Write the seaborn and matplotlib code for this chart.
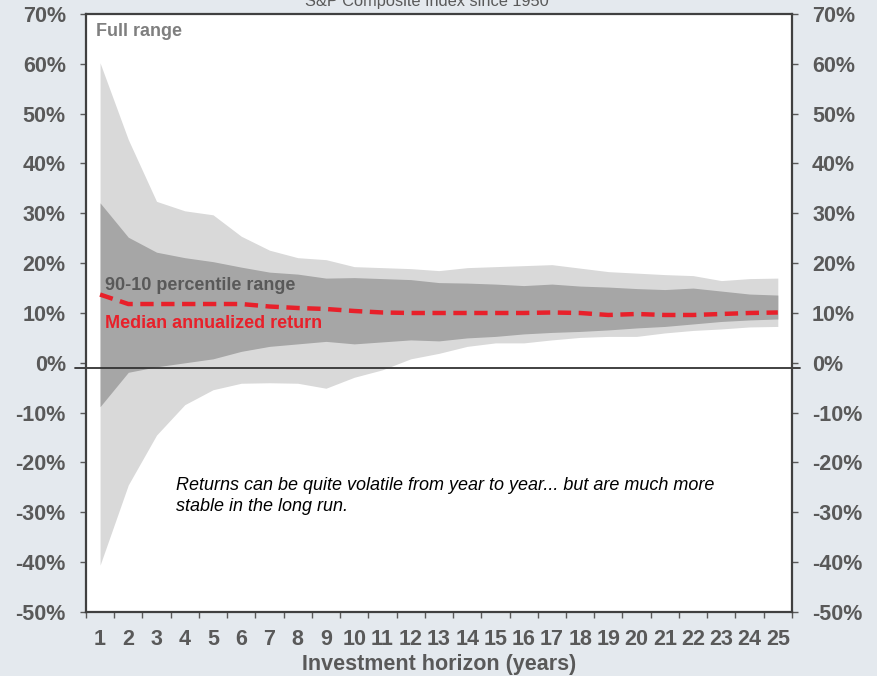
import numpy as np
import pandas as pd
import seaborn as sns
import matplotlib.pyplot as plt
from matplotlib.ticker import FixedLocator
import matplotlib.transforms as mtransforms

# investment horizon in years
horizon = list(range(1, 26))

# annualized returns in %
full_max = [60.2, 44.8, 32.4, 30.5, 29.7, 25.4, 22.6, 21.1, 20.7, 19.3, 19.1, 18.9, 18.5,
            19.1, 19.3, 19.5, 19.7, 19.0, 18.3, 18.0, 17.7, 17.5, 16.5, 16.9, 17.0]
p90 = [32.1, 25.2, 22.2, 21.1, 20.3, 19.2, 18.2, 17.8, 17.0, 17.1, 16.9, 16.7, 16.1,
       16.0, 15.8, 15.5, 15.8, 15.4, 15.2, 14.9, 14.7, 15.0, 14.4, 13.8, 13.6]
median = [13.7, 11.8, 11.8, 11.8, 11.8, 11.8, 11.3, 11.0, 10.8, 10.4, 10.1, 10.0, 10.0,
          10.0, 10.0, 10.0, 10.1, 10.0, 9.6, 9.8, 9.6, 9.6, 9.8, 10.0, 10.1]
p10 = [-8.8, -1.9, -0.8, 0.0, 0.8, 2.3, 3.3, 3.8, 4.3, 3.8, 4.2, 4.6, 4.4,
       5.0, 5.3, 5.8, 6.1, 6.3, 6.6, 7.0, 7.3, 7.8, 8.3, 8.6, 8.8]
full_min = [-40.6, -24.5, -14.5, -8.4, -5.4, -4.1, -4.0, -4.1, -5.1, -2.9, -1.4, 0.8, 1.9,
            3.3, 4.0, 4.0, 4.6, 5.1, 5.3, 5.3, 6.0, 6.5, 6.8, 7.2, 7.3]
y_ticks = list(range(-50, 71, 10))

df = pd.DataFrame({'horizon': horizon, 'full_max': full_max, 'p90': p90,
                   'median': median, 'p10': p10, 'full_min': full_min})

sns.set_style("white")
plt.rcParams['font.family'] = ['Liberation Sans', 'DejaVu Sans']

bg = '#E4E9EE'
txt = '#595959'
fig = plt.figure(figsize=(8.77, 6.76), dpi=100, facecolor=bg)
ax = fig.add_axes([0.098, 0.0947, 0.805, 0.8846])
ax.set_facecolor('white')

ax.fill_between(df['horizon'], df['full_min'], df['full_max'], color='#D9D9D9', lw=0)
ax.fill_between(df['horizon'], df['p10'], df['p90'], color='#A6A6A6', lw=0)
sns.lineplot(data=df, x='horizon', y='median', ax=ax, color='#E8202A', lw=3.2,
             linestyle=(0, (3, 1.7)))

# axis line crossing just below zero
trans = mtransforms.blended_transform_factory(ax.transAxes, ax.transData)
ax.plot([-0.015, 1.012], [-1.1, -1.1], color='#333333', lw=1.3, transform=trans, clip_on=False)

ax.set_xlim(0.5, 25.5)
ax.set_ylim(-50, 70)
ax.set_yticks(y_ticks)
ax.set_yticklabels([f'{v}%' for v in y_ticks], fontweight='bold')
ax.xaxis.set_major_locator(FixedLocator(horizon))
ax.xaxis.set_minor_locator(FixedLocator(np.arange(0.5, 26, 1)))
ax.set_xticklabels([str(h) for h in horizon], fontweight='bold')

ax.tick_params(axis='y', which='major', left=True, right=True, labelleft=True, labelright=True,
               direction='out', length=4.5, width=1, color='#595959', labelsize=15.5,
               labelcolor=txt, pad=10)
ax.tick_params(axis='x', which='major', length=0, labelsize=15.5, labelcolor=txt, pad=12)
ax.tick_params(axis='x', which='minor', bottom=True, length=4.5, width=1, color='#595959')

for s in ax.spines.values():
    s.set_visible(True)
    s.set_color('#404040')
    s.set_linewidth(1.6)

ax.set_xlabel('Investment horizon (years)', fontsize=15.5, fontweight='bold', color=txt, labelpad=3)
ax.set_ylabel('')

fig.text(0.487, 0.998, 'S&P Composite Index since 1950', ha='center', va='center',
         fontsize=11.8, color=txt)
ax.text(0.85, 66.5, 'Full range', fontsize=13, fontweight='bold', color='#7F7F7F', va='center')
ax.text(1.17, 15.6, '90-10 percentile range', fontsize=13, fontweight='bold', color=txt, va='center')
ax.text(1.17, 7.8, 'Median annualized return', fontsize=13, fontweight='bold', color='#E8202A', va='center')
ax.text(3.7, -26.7, 'Returns can be quite volatile from year to year... but are much more\n'
        'stable in the long run.', fontsize=13, style='italic', color='black', va='center',
        linespacing=1.3)

fig.savefig('out.png', dpi=100, facecolor=bg)
